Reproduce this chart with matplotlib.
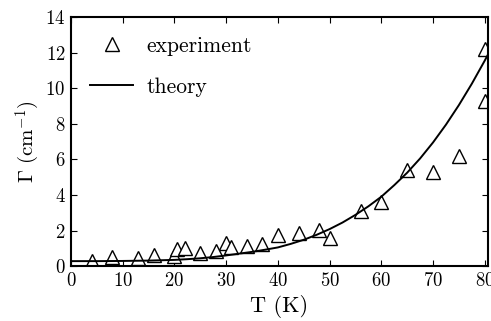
import matplotlib
matplotlib.use("Agg")
import matplotlib.pyplot as plt
import numpy as np

T_exp = [4, 8, 13, 16, 20, 20.5, 22, 25, 28, 30, 31, 34, 37, 40, 44, 48, 50, 56, 60, 65, 70, 75, 80, 80]
G_exp = [0.3, 0.5, 0.45, 0.65, 0.55, 0.95, 1.0, 0.75, 0.85, 1.3, 1.1, 1.15, 1.25, 1.75, 1.85, 2.05,
         1.6, 3.1, 3.6, 5.4, 5.3, 6.2, 12.2, 9.3]

# theory curve, sampled from the figure
T_th = [0, 5, 10, 15, 20, 22.5, 25, 27.5, 30, 32.5, 35, 37.5, 40, 42.5, 45, 47.5, 50, 52.5,
        55, 57.5, 60, 62.5, 65, 67.5, 70, 72.5, 75, 77.5, 80, 81]
G_th = [0.28, 0.28, 0.29, 0.31, 0.35, 0.39, 0.44, 0.51, 0.6, 0.7, 0.8, 0.92, 1.05, 1.25, 1.48,
        1.76, 2.08, 2.45, 2.88, 3.36, 3.9, 4.55, 5.25, 6.05, 6.95, 7.95, 9.05, 10.25, 11.55, 12.1]

plt.rcParams['font.family'] = 'cmr10'
plt.rcParams['mathtext.fontset'] = 'cm'
plt.rcParams['axes.formatter.use_mathtext'] = True

fig = plt.figure(figsize=(4.91, 3.21), dpi=100)
ax = fig.add_axes([0.1446, 0.171, 0.849, 0.776])

ax.plot(T_exp, G_exp, linestyle='none', marker='^', markersize=10, markerfacecolor='white',
        markeredgecolor='black', markeredgewidth=1.0, label='experiment')
ax.plot(T_th, G_th, color='black', linewidth=1.4, label='theory')

ax.set_xlim(0, 80.6)
ax.set_ylim(0, 14)
ax.set_xticks(np.arange(0, 81, 10))
ax.set_yticks(np.arange(0, 15, 2))
ax.tick_params(direction='in', top=True, right=True, labelsize=13.5, length=4, pad=4)
for s in ax.spines.values():
    s.set_linewidth(1.5)

ax.set_xlabel('T (K)', fontsize=16, labelpad=4)
ax.set_ylabel(r'$\Gamma\ (\mathrm{cm}^{-1})$', fontsize=15, labelpad=2)

ax.legend(loc='upper left', frameon=False, fontsize=15.5, labelspacing=1.0, handlelength=2.0,
          handletextpad=0.6, borderaxespad=0.5)

fig.savefig('out.png', dpi=100)
